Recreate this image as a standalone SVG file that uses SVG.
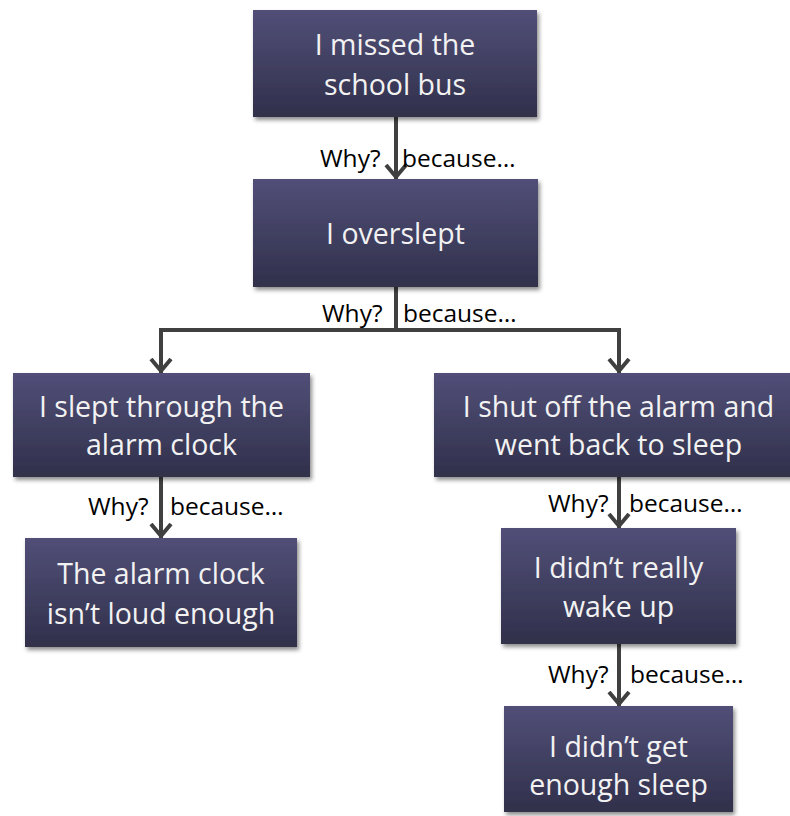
<svg xmlns="http://www.w3.org/2000/svg" width="790" height="816" viewBox="0 0 790 816">
<defs>
<linearGradient id="g" x1="0" y1="0" x2="0" y2="1">
<stop offset="0" stop-color="#514f78"/>
<stop offset="1" stop-color="#30304b"/>
</linearGradient>
<filter id="sh" x="-10%" y="-10%" width="125%" height="130%">
<feDropShadow dx="2" dy="3" stdDeviation="2" flood-color="#000" flood-opacity="0.45"/>
</filter>
<marker id="arr" markerUnits="userSpaceOnUse" markerWidth="30" markerHeight="30" viewBox="-15 -15 30 30" refX="0" refY="0" orient="auto">
<path d="M-14,-10 L-2,0 L-14,10" fill="none" stroke="#404040" stroke-width="4"/>
</marker>
<style>
.box{fill:url(#g);filter:url(#sh);}
.t{font-family:"Open Sans","Liberation Sans",sans-serif;font-size:28.5px;fill:#f2f2f2;text-anchor:middle;}
.l{font-family:"Open Sans","Liberation Sans",sans-serif;font-size:24.5px;fill:#000;}
.c{fill:none;stroke:#404040;stroke-width:4;}
</style>
</defs>
<rect width="790" height="816" fill="#fff"/>
<g id="connectors">
<path class="c" d="M396,117 V179" marker-end="url(#arr)"/>
<path class="c" d="M396,287 V330 H161 V373" marker-end="url(#arr)"/>
<path class="c" d="M396,330 H619 V373" marker-end="url(#arr)"/>
<path class="c" d="M161,477 V538" marker-end="url(#arr)"/>
<path class="c" d="M619,477 V528" marker-end="url(#arr)"/>
<path class="c" d="M619,644 V706" marker-end="url(#arr)"/>
<text class="l" x="320" y="167">Why?</text><text class="l" x="402" y="167">because…</text>
<text class="l" x="322" y="322">Why?</text><text class="l" x="403" y="322">because…</text>
<text class="l" x="88" y="515">Why?</text><text class="l" x="170" y="515">because…</text>
<text class="l" x="548" y="512">Why?</text><text class="l" x="629" y="512">because…</text>
<text class="l" x="548" y="683">Why?</text><text class="l" x="630" y="683">because…</text>
</g>
<g id="n1"><rect class="box" x="253" y="10" width="284" height="107"/>
<text class="t" x="395" y="55">I missed the</text><text class="t" x="395" y="95">school bus</text></g>
<g id="n2"><rect class="box" x="253" y="179" width="285" height="108"/>
<text class="t" x="395.5" y="244">I overslept</text></g>
<g id="n3"><rect class="box" x="13" y="373" width="297" height="104"/>
<text class="t" x="161.5" y="417">I slept through the</text><text class="t" x="161.5" y="455">alarm clock</text></g>
<g id="n4"><rect class="box" x="434" y="373" width="369" height="104"/>
<text class="t" x="618.5" y="417">I shut off the alarm and</text><text class="t" x="618.5" y="455">went back to sleep</text></g>
<g id="n5"><rect class="box" x="25" y="538" width="272" height="109"/>
<text class="t" x="161" y="584">The alarm clock</text><text class="t" x="161" y="624">isn’t loud enough</text></g>
<g id="n6"><rect class="box" x="501" y="528" width="235" height="116"/>
<text class="t" x="618.5" y="578">I didn’t really</text><text class="t" x="618.5" y="617">wake up</text></g>
<g id="n7"><rect class="box" x="504" y="706" width="229" height="106"/>
<text class="t" x="618.5" y="757">I didn’t get</text><text class="t" x="618.5" y="795">enough sleep</text></g>
</svg>
